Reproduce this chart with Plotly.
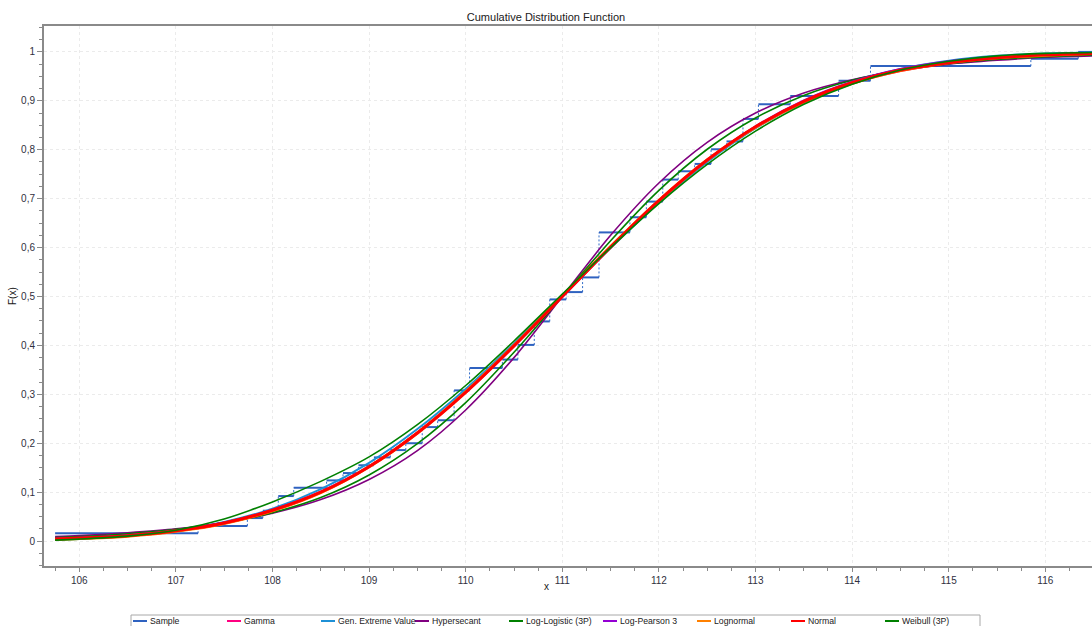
import plotly.graph_objects as go

# ---------------- data ----------------
# empirical CDF of the sample: jump positions and levels after each jump
sample_x = [105.75, 107.23, 107.74, 107.90, 108.06, 108.22, 108.56, 108.73, 108.89,
            109.05, 109.22, 109.38, 109.55, 109.71, 109.88, 110.04, 110.38, 110.54,
            110.71, 110.87, 111.04, 111.21, 111.38, 111.70, 111.87, 112.04, 112.20,
            112.37, 112.54, 112.70, 112.87, 113.03, 113.36, 113.86, 114.19, 115.85,
            116.34]
sample_y = [0.016, 0.031, 0.047, 0.062, 0.092, 0.109, 0.124, 0.139, 0.155,
            0.171, 0.186, 0.200, 0.233, 0.247, 0.308, 0.354, 0.371, 0.401,
            0.449, 0.494, 0.509, 0.539, 0.631, 0.662, 0.694, 0.739, 0.756,
            0.771, 0.801, 0.817, 0.863, 0.893, 0.910, 0.941, 0.971, 0.986,
            1.000]
sample_end = 116.5

# fitted distributions, read at these x positions
grid_x = [105.75, 106, 106.5, 107, 107.5, 108, 108.5, 109, 109.5, 110, 110.5, 111,
          111.5, 112, 112.5, 113, 113.5, 114, 114.5, 115, 115.5, 116, 116.5]

gamma_y = [0.003, 0.005, 0.010, 0.020, 0.036, 0.062, 0.099, 0.152, 0.222, 0.306, 0.401, 0.502,
           0.602, 0.696, 0.778, 0.845, 0.897, 0.935, 0.961, 0.977, 0.987, 0.993, 0.996]
gev_y = [0.006, 0.008, 0.013, 0.022, 0.039, 0.066, 0.106, 0.160, 0.229, 0.311, 0.404, 0.502,
         0.599, 0.692, 0.775, 0.844, 0.898, 0.938, 0.965, 0.982, 0.992, 0.997, 0.999]
hypersecant_y = [0.009, 0.011, 0.017, 0.025, 0.038, 0.057, 0.085, 0.126, 0.185, 0.268, 0.375, 0.500,
                 0.625, 0.732, 0.815, 0.875, 0.916, 0.943, 0.962, 0.975, 0.983, 0.989, 0.992]
loglogistic_y = [0.007, 0.009, 0.015, 0.024, 0.037, 0.058, 0.089, 0.135, 0.199, 0.283, 0.386, 0.500,
                 0.614, 0.717, 0.801, 0.865, 0.911, 0.942, 0.963, 0.976, 0.985, 0.990, 0.994]
logpearson_y = [0.005, 0.007, 0.012, 0.022, 0.038, 0.064, 0.101, 0.153, 0.222, 0.304, 0.398, 0.499,
                0.600, 0.695, 0.779, 0.848, 0.901, 0.939, 0.965, 0.981, 0.990, 0.995, 0.998]
lognormal_y = [0.003, 0.005, 0.010, 0.020, 0.036, 0.062, 0.099, 0.152, 0.221, 0.305, 0.400, 0.501,
               0.602, 0.696, 0.779, 0.846, 0.898, 0.936, 0.962, 0.978, 0.988, 0.993, 0.997]
normal_y = [0.004, 0.006, 0.011, 0.021, 0.037, 0.063, 0.100, 0.152, 0.221, 0.304, 0.399, 0.500,
            0.601, 0.696, 0.779, 0.847, 0.899, 0.937, 0.963, 0.978, 0.988, 0.994, 0.997]
weibull_y = [0.002, 0.004, 0.010, 0.022, 0.045, 0.080, 0.122, 0.172, 0.238, 0.318, 0.409, 0.505,
             0.600, 0.690, 0.770, 0.838, 0.893, 0.934, 0.963, 0.981, 0.992, 0.997, 0.999]

x_ticks = [106, 107, 108, 109, 110, 111, 112, 113, 114, 115, 116]
y_tickvals = [0, 0.1, 0.2, 0.3, 0.4, 0.5, 0.6, 0.7, 0.8, 0.9, 1]
y_ticktext = ["0", "0,1", "0,2", "0,3", "0,4", "0,5", "0,6", "0,7", "0,8", "0,9", "1"]

sample_color = "#2F62C0"
series = [
    ("Gamma", gamma_y, "#FF0080", 2),
    ("Gen. Extreme Value", gev_y, "#1E90D6", 2),
    ("Hypersecant", hypersecant_y, "#800080", 1.6),
    ("Log-Logistic (3P)", loglogistic_y, "#008000", 1.6),
    ("Log-Pearson 3", logpearson_y, "#9400D3", 2),
    ("Lognormal", lognormal_y, "#FF8000", 3),
    ("Normal", normal_y, "#FF0000", 3),
    ("Weibull (3P)", weibull_y, "#008000", 1.6),
]

# ---------------- figure ----------------
fig = go.Figure()

# sample: horizontal solid segments
hx, hy = [], []
for i in range(len(sample_x)):
    x_end = sample_x[i + 1] if i + 1 < len(sample_x) else sample_end
    hx += [sample_x[i], x_end, None]
    hy += [sample_y[i], sample_y[i], None]
# sample: vertical dashed connectors
vx, vy = [], []
for i in range(1, len(sample_x)):
    vx += [sample_x[i], sample_x[i], None]
    vy += [sample_y[i - 1], sample_y[i], None]

fig.add_trace(go.Scatter(x=vx, y=vy, mode="lines", line=dict(color="#2F6BC8", width=1, dash="2px,2px"),
                         showlegend=False, hoverinfo="skip"))
fig.add_trace(go.Scatter(x=hx, y=hy, mode="lines", name="Sample", line=dict(color=sample_color, width=2),
                         showlegend=False))

for name, ys, color, w in series:
    fig.add_trace(go.Scatter(x=grid_x, y=ys, mode="lines", name=name, showlegend=False,
                             line=dict(color=color, width=w, shape="spline", smoothing=0.8)))

# ---------------- layout geometry (pixels of the 1092x626 page) ----------------
PL, PR, PT, PB = 44, 1092, 26, 566
def px_x(p):
    return (p - PL) / (PR - PL)
def px_y(p):
    return (PB - p) / (PB - PT)

shapes = []
annotations = []
# legend box (bottom part runs off the page, as in the reference)
shapes.append(dict(type="rect", xref="paper", yref="paper", x0=px_x(131), x1=px_x(980),
                   y0=px_y(615), y1=px_y(640), line=dict(color="#A8A8A8", width=1), fillcolor="white",
                   layer="above"))
legend_entries = [("Sample", sample_color)] + [(n, c) for n, _, c, _ in series]
for i, (name, color) in enumerate(legend_entries):
    x0 = 133 + 94 * i
    shapes.append(dict(type="line", xref="paper", yref="paper", x0=px_x(x0), x1=px_x(x0 + 14),
                       y0=px_y(621), y1=px_y(621), line=dict(color=color, width=2), layer="above"))
    annotations.append(dict(text=name, xref="paper", yref="paper", x=px_x(x0 + 15), y=px_y(620.5),
                            showarrow=False, xanchor="left", yanchor="middle",
                            font=dict(size=8.7, color="#202020")))

annotations += [
    dict(text="x", xref="paper", yref="paper", x=px_x(546), y=px_y(586),
         showarrow=False, xanchor="center", yanchor="middle", font=dict(size=10, color="#202020")),
    dict(text="F(x)", xref="paper", yref="paper", x=px_x(12), y=0.5, textangle=-90,
         showarrow=False, xanchor="center", yanchor="middle", font=dict(size=10, color="#202020")),
]

axis_color = "#8A8A8A"
grid_color = "#EBEBEB"
fig.update_layout(
    width=1092, height=626,
    margin=dict(l=PL, r=1092 - PR, t=PT, b=626 - PB, autoexpand=False),
    paper_bgcolor="white", plot_bgcolor="white",
    font=dict(family="Liberation Sans, Arial, sans-serif", size=10, color="#303040"),
    title=dict(text="Cumulative Distribution Function", x=0.5, xref="container", xanchor="center",
               y=1 - 17 / 626, yref="container", yanchor="middle",
               font=dict(size=11, color="#202020")),
    showlegend=False,
    xaxis=dict(range=[105.635, 116.483], tickvals=x_ticks, ticks="outside", ticklen=4, tickwidth=1,
               tickcolor=axis_color, showline=True, linecolor=axis_color, linewidth=2, mirror=True,
               showgrid=True, gridcolor=grid_color, griddash="3px,3px", gridwidth=1, zeroline=False,
               minor=dict(dtick=0.25, tick0=0, ticks="outside", ticklen=3, tickcolor=axis_color, showgrid=False)),
    yaxis=dict(range=[-0.051, 1.053], tickvals=y_tickvals, ticktext=y_ticktext, ticks="outside", ticklen=5,
               tickwidth=1, tickcolor=axis_color, showline=True, linecolor=axis_color, linewidth=2,
               showgrid=True, gridcolor=grid_color, griddash="3px,3px", gridwidth=1, zeroline=False,
               minor=dict(dtick=0.025, tick0=0, ticks="outside", ticklen=3, tickcolor=axis_color, showgrid=False)),
    shapes=shapes,
    annotations=annotations,
)

fig.write_html("out.html", config={"displayModeBar": False},
               post_script="document.body.style.margin='0';")
